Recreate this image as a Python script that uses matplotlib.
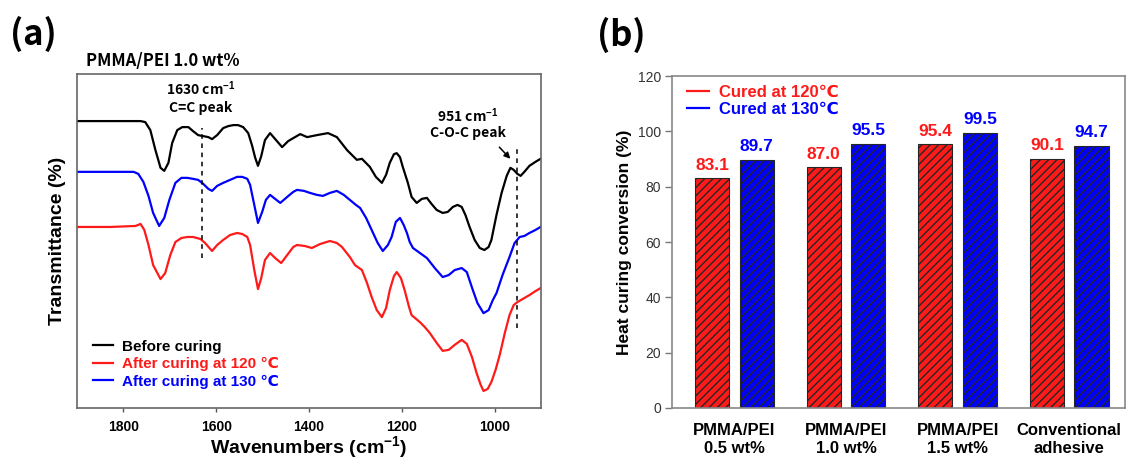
import matplotlib
matplotlib.use("Agg")
import matplotlib.pyplot as plt
import numpy as np

plt.rcParams["font.family"] = ["Liberation Sans", "DejaVu Sans"]
plt.rcParams["mathtext.fontset"] = "custom"
plt.rcParams["mathtext.rm"] = "Liberation Sans"
plt.rcParams["mathtext.bf"] = "Liberation Sans:bold"
plt.rcParams["mathtext.default"] = "bf"
plt.rcParams["hatch.linewidth"] = 1.0

# FTIR spectra, PMMA/PEI 1.0 wt% (wavenumber in cm-1, transmittance in a.u.)
wn_before = [1899, 1828, 1763, 1753, 1742, 1731, 1720, 1712, 1703, 1695, 1684, 1673, 1660,
             1650, 1639, 1628, 1617, 1609, 1598, 1585, 1574, 1563, 1553, 1542, 1531, 1523,
             1516, 1510, 1503, 1495, 1484, 1471, 1458, 1445, 1434, 1419, 1404, 1383, 1359,
             1340, 1318, 1297, 1286, 1269, 1256, 1243, 1234, 1226, 1217, 1211, 1204, 1198,
             1187, 1179, 1168, 1157, 1146, 1136, 1125, 1112, 1101, 1090, 1080, 1071, 1063,
             1054, 1043, 1032, 1022, 1013, 1007, 996, 985, 974, 966, 959, 951, 944, 936,
             925, 912, 901]
t_before = [85.9, 85.9, 85.9, 85.6, 83.2, 77.2, 71.9, 71.0, 73.4, 79.3, 83.2, 84.1, 84.1,
            82.9, 81.7, 81.4, 81.1, 80.5, 81.7, 83.8, 84.4, 84.7, 84.7, 84.1, 82.3, 78.7,
            74.9, 72.5, 75.4, 80.2, 82.3, 80.2, 78.1, 79.9, 80.8, 82.0, 81.1, 81.7, 82.3,
            81.1, 77.2, 74.3, 74.6, 72.2, 69.2, 67.4, 69.8, 73.4, 76.0, 76.3, 75.1, 72.2,
            67.4, 63.2, 61.4, 62.6, 62.9, 61.1, 59.3, 58.4, 58.7, 60.2, 60.8, 60.2, 57.8,
            54.2, 50.3, 47.9, 47.3, 48.2, 50.3, 57.8, 64.4, 69.5, 71.9, 71.3, 70.1, 69.5, 70.7,
            72.5, 73.7, 74.6]

wn_120 = [1899, 1828, 1774, 1763, 1755, 1746, 1736, 1720, 1710, 1699, 1688, 1675, 1662,
          1650, 1634, 1624, 1609, 1598, 1585, 1570, 1555, 1544, 1533, 1527, 1518, 1510,
          1503, 1495, 1484, 1473, 1460, 1447, 1434, 1426, 1409, 1394, 1376, 1355, 1340,
          1329, 1312, 1301, 1286, 1275, 1265, 1254, 1243, 1234, 1226, 1217, 1211, 1202,
          1194, 1185, 1179, 1161, 1151, 1140, 1125, 1112, 1099, 1086, 1071, 1060, 1049,
          1039, 1030, 1024, 1015, 1007, 998, 989, 978, 968, 959, 951, 940, 925, 912, 901]
t_120 = [54.2, 54.2, 54.5, 55.1, 53.3, 48.8, 42.8, 38.6, 40.4, 45.8, 49.7, 50.9, 51.2,
         51.2, 50.6, 49.4, 47.0, 48.8, 50.3, 51.8, 52.4, 52.1, 51.2, 48.8, 41.3, 35.6,
         38.9, 44.3, 46.4, 44.9, 43.4, 45.8, 48.2, 48.8, 48.5, 47.9, 49.1, 50.0, 49.4,
         48.2, 45.2, 42.8, 41.3, 37.4, 33.2, 29.3, 27.2, 29.9, 35.3, 39.5, 40.7, 38.9,
         35.3, 30.5, 27.8, 25.7, 24.3, 22.5, 19.5, 17.1, 17.4, 18.9, 20.4, 19.2, 15.3,
         10.5, 6.9, 5.1, 5.7, 7.8, 11.4, 15.9, 22.5, 27.8, 30.8, 31.7, 32.6, 33.8, 35.0, 35.9]

wn_130 = [1899, 1828, 1778, 1768, 1757, 1746, 1736, 1723, 1712, 1701, 1688, 1675, 1662,
          1650, 1639, 1628, 1617, 1609, 1598, 1585, 1570, 1555, 1544, 1533, 1527, 1518,
          1510, 1501, 1493, 1484, 1473, 1462, 1447, 1434, 1426, 1411, 1398, 1383, 1370,
          1355, 1340, 1325, 1312, 1299, 1290, 1277, 1265, 1252, 1241, 1230, 1222, 1213,
          1204, 1196, 1189, 1183, 1176, 1161, 1146, 1129, 1112, 1099, 1086, 1071, 1060,
          1047, 1037, 1024, 1013, 1004, 996, 983, 968, 957, 946, 936, 925, 912, 901]
t_130 = [70.7, 70.7, 70.7, 70.1, 67.7, 63.5, 58.4, 54.5, 56.9, 62.3, 67.4, 68.9, 68.9,
         68.6, 68.3, 67.1, 65.6, 65.0, 66.5, 67.4, 68.3, 69.2, 69.2, 68.6, 66.8, 60.8,
         55.4, 58.7, 62.3, 63.8, 62.6, 61.4, 63.2, 64.7, 65.3, 65.0, 64.4, 63.8, 63.5,
         64.4, 65.0, 63.8, 62.3, 60.8, 59.9, 56.9, 53.3, 49.4, 47.0, 48.8, 51.2, 55.7,
         56.9, 54.8, 52.4, 49.7, 47.9, 46.4, 44.9, 41.9, 39.2, 39.8, 41.3, 41.9, 40.7,
         35.3, 31.4, 28.4, 29.3, 32.3, 34.4, 39.8, 45.2, 49.4, 51.2, 51.5, 52.4, 53.3, 54.2]

peak_cc = 1630
peak_coc = 951

# heat curing conversion (%)
samples = ["PMMA/PEI\n0.5 wt%", "PMMA/PEI\n1.0 wt%", "PMMA/PEI\n1.5 wt%", "Conventional\nadhesive"]
conv_120 = [83.1, 87.0, 95.4, 90.1]
conv_130 = [89.7, 95.5, 99.5, 94.7]

RED = "#ff1a1a"
BLUE = "#0000ff"
KR = ["Noto Sans CJK KR", "DejaVu Sans"]

fig = plt.figure(figsize=(11.26, 4.61), dpi=100)

# ---------------- (a) FTIR ----------------
ax1 = fig.add_axes([0.0684, 0.115, 0.4121, 0.7245])
ax1.plot(wn_before, t_before, color="black", lw=1.6, label="Before curing")
ax1.plot(wn_120, t_120, color=RED, lw=1.6, label="After curing at 120 \u2103")
ax1.plot(wn_130, t_130, color=BLUE, lw=1.6, label="After curing at 130 \u2103")
ax1.plot([peak_cc, peak_cc], [44.9, 83.8], color="black", lw=1.1, ls=(0, (3, 3)))
ax1.plot([peak_coc, peak_coc], [24.0, 77.8], color="black", lw=1.1, ls=(0, (3, 3)))
ax1.set_xlim(1900, 900)
ax1.set_ylim(0, 100)
ax1.set_xticks([1800, 1600, 1400, 1200, 1000])
ax1.set_yticks([])
ax1.tick_params(axis="x", direction="out", length=3, width=1, color="#555555", pad=6)
for lab in ax1.get_xticklabels():
    lab.set_fontweight("bold")
    lab.set_fontsize(10)
for sp in ax1.spines.values():
    sp.set_color("#666666")
    sp.set_linewidth(1.2)
ax1.set_xlabel(r"Wavenumbers (cm$^{-1}$)", fontsize=14, fontweight="bold", labelpad=0)
ax1.set_ylabel("Transmittance (%)", fontsize=14, fontweight="bold", labelpad=8)

ax1.text(1634, 95.5, r"1630 cm$^{-1}$", ha="center", va="center", fontsize=10,
         family=KR, fontweight="bold")
ax1.text(1634, 89.8, "C=C peak", ha="center", va="center", fontsize=10,
         family=KR, fontweight="bold")
ax1.text(1058, 87.4, r"951 cm$^{-1}$", ha="center", va="center", fontsize=10,
         family=KR, fontweight="bold")
ax1.text(1058, 82.3, "C-O-C peak", ha="center", va="center", fontsize=10,
         family=KR, fontweight="bold")
ax1.annotate("", xy=(962, 74.0), xytext=(994, 78.7),
             arrowprops=dict(arrowstyle="-|>", color="black", lw=1.1, mutation_scale=9))

ax1.legend(loc="upper left", bbox_to_anchor=(0.034, 0.205), frameon=False,
           borderpad=0, borderaxespad=0, handlelength=1.3, handletextpad=0.6,
           labelspacing=0.22, labelcolor="linecolor",
           prop={"weight": "bold", "size": 11})

fig.text(0.076, 1 - 61 / 461, "PMMA/PEI 1.0 wt%", fontsize=12, fontweight="bold",
         family=KR, ha="left", va="center")
fig.text(33 / 1126, 1 - 34 / 461, "(a)", fontsize=25, fontweight="bold", family=KR,
         ha="center", va="center")

# ---------------- (b) conversion ----------------
ax2 = fig.add_axes([0.5968, 0.115, 0.4023, 0.72])
x = np.arange(len(samples))
w = 0.305
b1 = ax2.bar(x - 0.2, conv_120, w, color=RED, edgecolor="#262626", hatch="////",
             lw=0.8, label="Cured at 120\u2103")
b2 = ax2.bar(x + 0.2, conv_130, w, color=BLUE, edgecolor="#262626", hatch="////",
             lw=0.8, label="Cured at 130\u2103")
ax2.bar_label(b1, labels=[f"{v:.1f}" for v in conv_120], padding=4, color=RED,
              fontsize=12.5, fontweight="bold")
ax2.bar_label(b2, labels=[f"{v:.1f}" for v in conv_130], padding=4, color=BLUE,
              fontsize=12.5, fontweight="bold")
ax2.set_xlim(-0.56, 3.5)
ax2.set_ylim(0, 120)
ax2.set_yticks([0, 20, 40, 60, 80, 100, 120])
ax2.set_xticks(x)
ax2.set_xticklabels(samples, fontsize=12, fontweight="bold")
ax2.tick_params(axis="x", length=0, pad=11)
ax2.tick_params(axis="y", direction="out", length=5, width=1, color="#777777",
                labelsize=10, labelcolor="#333333", pad=3)
for sp in ax2.spines.values():
    sp.set_color("#888888")
    sp.set_linewidth(1.2)
ax2.set_ylabel("Heat curing conversion (%)", fontsize=12.5, fontweight="bold", labelpad=4)

h1 = plt.Line2D([], [], color=RED, lw=1.6)
h2 = plt.Line2D([], [], color=BLUE, lw=1.6)
ax2.legend([h1, h2], ["Cured at 120\u2103", "Cured at 130\u2103"], loc="upper left",
           bbox_to_anchor=(0.033, 0.975), frameon=False, borderpad=0, borderaxespad=0,
           handlelength=1.3, handletextpad=0.6, labelspacing=0.12, labelcolor="linecolor",
           prop={"weight": "bold", "size": 12})

fig.text(621 / 1126, 1 - 35 / 461, "(b)", fontsize=25, fontweight="bold", family=KR,
         ha="center", va="center")

fig.savefig("out.png", dpi=100)
